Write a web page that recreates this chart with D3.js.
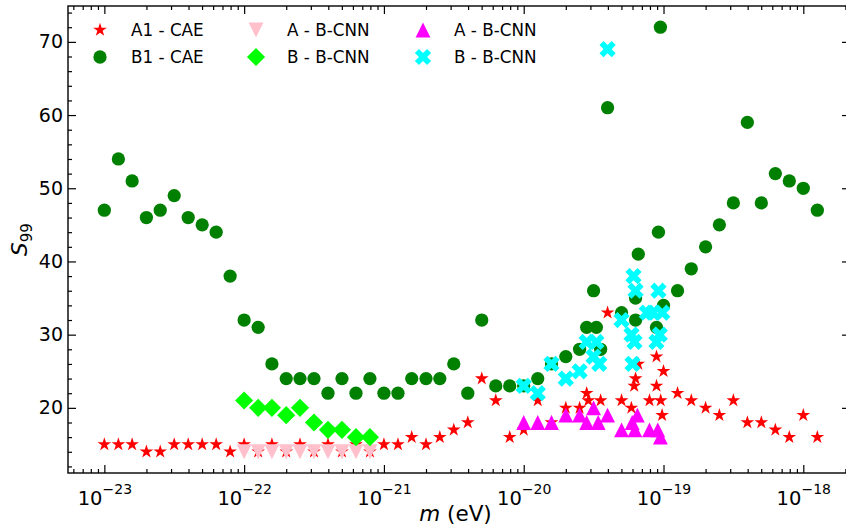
<!DOCTYPE html>
<html>
<head>
<meta charset="utf-8">
<script src="https://cdn.jsdelivr.net/npm/d3@7"></script>
<style>
    body { margin: 0; background: #fff; }
    svg { display: block; font-family: "DejaVu Sans", sans-serif; }
</style>
</head>
<body>
<svg id="chart" width="846" height="527"></svg>
<script>
// ---- data ----
const a1CaeM = [1.0e-23, 1.26e-23, 1.58e-23, 2.0e-23, 2.51e-23, 3.16e-23, 3.98e-23, 5.01e-23, 6.31e-23, 7.94e-23,
    1.0e-22, 1.26e-22, 1.58e-22, 2.0e-22, 2.51e-22, 3.16e-22, 3.98e-22, 5.01e-22, 6.31e-22, 7.94e-22,
    1.0e-21, 1.26e-21, 1.58e-21, 2.0e-21, 2.51e-21, 3.16e-21, 3.98e-21, 5.01e-21, 6.31e-21, 7.94e-21,
    1.0e-20, 1.26e-20, 1.58e-20, 2.0e-20, 2.51e-20, 2.82e-20, 2.9e-20, 3.55e-20, 3.98e-20, 5.01e-20,
    5.89e-20, 6.17e-20, 6.31e-20, 6.6e-20, 7.94e-20, 8.91e-20, 8.91e-20, 9.55e-20, 9.77e-20, 1.0e-19,
    1.26e-19, 1.58e-19, 2.0e-19, 2.51e-19, 3.16e-19, 3.98e-19, 5.01e-19, 6.31e-19, 7.94e-19, 1.0e-18, 1.26e-18];
const a1CaeS = [15, 15, 15, 14, 14, 15, 15, 15, 15, 14,
    15, 14, 15, 14, 15, 14, 15, 14, 15, 14,
    15, 15, 16, 15, 16, 17, 18, 24, 21, 16,
    17, 21, 18, 20, 20, 22, 21, 21, 33, 21,
    20, 23, 24, 26, 21, 23, 27, 21, 19, 25,
    22, 21, 20, 19, 21, 18, 18, 17, 16, 19, 16];

const b1CaeM = [1.0e-23, 1.26e-23, 1.58e-23, 2.0e-23, 2.51e-23, 3.16e-23, 3.98e-23, 5.01e-23, 6.31e-23, 7.94e-23,
    1.0e-22, 1.26e-22, 1.58e-22, 2.0e-22, 2.51e-22, 3.16e-22, 3.98e-22, 5.01e-22, 6.31e-22, 7.94e-22,
    1.0e-21, 1.26e-21, 1.58e-21, 2.0e-21, 2.51e-21, 3.16e-21, 3.98e-21, 5.01e-21, 6.31e-21, 7.94e-21,
    1.0e-20, 1.26e-20, 1.58e-20, 2.0e-20, 2.51e-20, 2.82e-20, 3.16e-20, 3.31e-20, 3.55e-20, 3.98e-20,
    5.01e-20, 6.31e-20, 6.31e-20, 6.6e-20, 8.91e-20, 9.2e-20, 9.5e-20, 1.0e-19,
    1.26e-19, 1.58e-19, 2.0e-19, 2.51e-19, 3.16e-19, 3.98e-19, 5.01e-19, 6.31e-19, 7.94e-19, 1.0e-18, 1.26e-18];
const b1CaeS = [47, 54, 51, 46, 47, 49, 46, 45, 44, 38,
    32, 31, 26, 24, 24, 24, 22, 24, 22, 24,
    22, 22, 24, 24, 24, 26, 22, 32, 23, 23,
    23, 24, 26, 27, 28, 31, 36, 31, 28, 61,
    33, 35, 32, 41, 31, 44, 72, 34,
    36, 39, 42, 45, 48, 59, 48, 52, 51, 50, 47];

const aPinkM = [1.0e-22, 1.26e-22, 1.58e-22, 2.0e-22, 2.51e-22, 3.16e-22, 3.98e-22, 5.01e-22, 6.31e-22, 7.94e-22];
const aPinkS = [14, 14, 14, 14, 14, 14, 14, 14, 14, 14];

const bLimeM = [1.0e-22, 1.26e-22, 1.58e-22, 2.0e-22, 2.51e-22, 3.16e-22, 3.98e-22, 5.01e-22, 6.31e-22, 7.94e-22];
const bLimeS = [21, 20, 20, 19, 20, 18, 17, 17, 16, 16];

const aMagM = [1.0e-20, 1.26e-20, 1.58e-20, 2.0e-20, 2.51e-20, 2.82e-20, 3.16e-20, 3.41e-20,
    3.98e-20, 5.01e-20, 5.97e-20, 6.24e-20, 6.5e-20, 7.94e-20, 9.1e-20, 9.5e-20];
const aMagS = [18, 18, 18, 19, 19, 18, 20, 18, 19, 17, 18, 17, 19, 17, 17, 16];

const bCyanM = [1.0e-20, 1.26e-20, 1.58e-20, 2.0e-20, 2.51e-20, 2.82e-20, 3.16e-20, 3.31e-20, 3.47e-20,
    3.98e-20, 5.01e-20, 5.9e-20, 6.0e-20, 6.2e-20, 6.1e-20, 6.31e-20, 7.6e-20, 8.4e-20, 9.8e-20,
    9.2e-20, 9.4e-20, 8.9e-20];
const bCyanS = [23, 22, 26, 24, 25, 29, 27, 29, 26,
    69, 32, 30, 26, 29, 38, 36, 33, 33, 33,
    36, 30, 29];

const legendLabels = ["A1 - CAE", "B1 - CAE", "A - B-CNN", "B - B-CNN", "A - B-CNN", "B - B-CNN"];
const xTicks = [1e-23, 1e-22, 1e-21, 1e-20, 1e-19, 1e-18];
const xTickExp = ["\u221223", "\u221222", "\u221221", "\u221220", "\u221219", "\u221218"];
const yTicks = [20, 30, 40, 50, 60, 70];

// ---- layout ----
const svg = d3.select("#chart");
const plotLeft = 68, plotRight = 850, plotTop = 6, plotBottom = 473;

const x = d3.scaleLog().domain([5.495e-24, 2.158e-18]).range([plotLeft, plotRight]);
const y = d3.scaleLinear().domain([11.1, 74.9]).range([plotBottom, plotTop]);

// minor ticks
const xMinor = [];
for (let e = -24; e <= -18; e++) {
    for (let k = 2; k <= 9; k++) {
        const v = k * Math.pow(10, e);
        if (v > x.domain()[0] && v < x.domain()[1]) xMinor.push(v);
    }
}
const yMinor = d3.range(12, 75, 2).filter((v) => v % 10 != 0);

function styleAxis(g) {
    g.select(".domain").remove();
    g.selectAll(".tick line").attr("stroke", "#000").attr("stroke-width", 1.2);
}

// bottom
svg.append("g").attr("transform", "translate(0," + plotBottom + ")")
    .call(d3.axisBottom(x).tickValues(xMinor).tickSize(-4).tickFormat(""))
    .call(styleAxis);
const xAxisG = svg.append("g").attr("transform", "translate(0," + plotBottom + ")")
    .call(d3.axisBottom(x).tickValues(xTicks).tickSize(-8).tickPadding(12).tickFormat(""))
    .call(styleAxis);
xAxisG.selectAll(".tick text").each(function (d, i) {
    const t = d3.select(this)
        .attr("font-size", 19.5)
        .attr("fill", "#000")
        .attr("font-family", "DejaVu Sans")
        .attr("dy", "1em");
    t.append("tspan").text("10");
    t.append("tspan").attr("font-size", 14).attr("dy", "-0.75em").text(xTickExp[i]);
});

// top
svg.append("g").attr("transform", "translate(0," + plotTop + ")")
    .call(d3.axisTop(x).tickValues(xMinor).tickSize(-4).tickFormat(""))
    .call(styleAxis);
svg.append("g").attr("transform", "translate(0," + plotTop + ")")
    .call(d3.axisTop(x).tickValues(xTicks).tickSize(-8).tickFormat(""))
    .call(styleAxis);

// left
svg.append("g").attr("transform", "translate(" + plotLeft + ",0)")
    .call(d3.axisLeft(y).tickValues(yMinor).tickSize(-4).tickFormat(""))
    .call(styleAxis);
svg.append("g").attr("transform", "translate(" + plotLeft + ",0)")
    .call(d3.axisLeft(y).tickValues(yTicks).tickSize(-8).tickPadding(5))
    .call(styleAxis)
    .selectAll(".tick text")
    .attr("font-size", 19)
    .attr("font-family", "DejaVu Sans")
    .attr("fill", "#000");

// right
svg.append("g").attr("transform", "translate(" + plotRight + ",0)")
    .call(d3.axisRight(y).tickValues(yMinor).tickSize(-4).tickFormat(""))
    .call(styleAxis);
svg.append("g").attr("transform", "translate(" + plotRight + ",0)")
    .call(d3.axisRight(y).tickValues(yTicks).tickSize(-8).tickFormat(""))
    .call(styleAxis);

// frame
svg.append("rect")
    .attr("x", plotLeft).attr("y", plotTop)
    .attr("width", plotRight - plotLeft).attr("height", plotBottom - plotTop)
    .attr("fill", "none").attr("stroke", "#000").attr("stroke-width", 1.4);

// axis labels
const xLabel = svg.append("text")
    .attr("x", (plotLeft + 843) / 2).attr("y", 521)
    .attr("text-anchor", "middle")
    .attr("font-size", 21.5);
xLabel.append("tspan").attr("font-style", "italic").text("m");
xLabel.append("tspan").text(" (eV)");

const yLabel = svg.append("text")
    .attr("transform", "translate(27," + (plotTop + plotBottom) / 2 + ") rotate(-90)")
    .attr("text-anchor", "middle")
    .attr("font-size", 21.5);
yLabel.append("tspan").attr("font-style", "italic").text("S");
yLabel.append("tspan").attr("font-size", 15).attr("dy", "0.3em").text("99");

// ---- markers ----
const triangle = {
    draw(ctx, size) {
        const h = Math.sqrt(size) / 2;
        ctx.moveTo(0, -h);
        ctx.lineTo(h, h);
        ctx.lineTo(-h, h);
        ctx.closePath();
    }
};

const series = [
    { m: a1CaeM, s: a1CaeS, type: d3.symbolStar, size: 58, rot: 0, color: "#ff0000" },
    { m: b1CaeM, s: b1CaeS, type: d3.symbolCircle, size: 138, rot: 0, color: "#008000" },
    { m: aPinkM, s: aPinkS, type: triangle, size: 220, rot: 180, color: "#ffc0cb" },
    { m: bLimeM, s: bLimeS, type: d3.symbolSquare, size: 165, rot: 45, color: "#00ff00" },
    { m: aMagM, s: aMagS, type: triangle, size: 220, rot: 0, color: "#ff00ff" },
    { m: bCyanM, s: bCyanS, type: d3.symbolCross, size: 165, rot: 45, color: "#00ffff" }
];

const plot = svg.append("g");
series.forEach((sr) => {
    const pts = sr.m.map((v, i) => [v, sr.s[i]]);
    plot.append("g")
        .selectAll("path")
        .data(pts)
        .enter()
        .append("path")
        .attr("d", d3.symbol().type(sr.type).size(sr.size))
        .attr("transform", (d) => "translate(" + x(d[0]) + "," + y(d[1]) + ") rotate(" + sr.rot + ")")
        .attr("fill", sr.color);
});

// ---- legend (3 columns x 2 rows) ----
const legendCols = [100, 256, 423];
const legendRows = [30, 57];
series.forEach((sr, i) => {
    const cx = legendCols[Math.floor(i / 2)];
    const cy = legendRows[i % 2];
    svg.append("path")
        .attr("d", d3.symbol().type(sr.type).size(sr.size))
        .attr("transform", "translate(" + cx + "," + cy + ") rotate(" + sr.rot + ")")
        .attr("fill", sr.color);
    svg.append("text")
        .attr("x", cx + 31)
        .attr("y", cy)
        .attr("dy", "0.36em")
        .attr("font-size", 16.8)
        .text(legendLabels[i]);
});
</script>
</body>
</html>
